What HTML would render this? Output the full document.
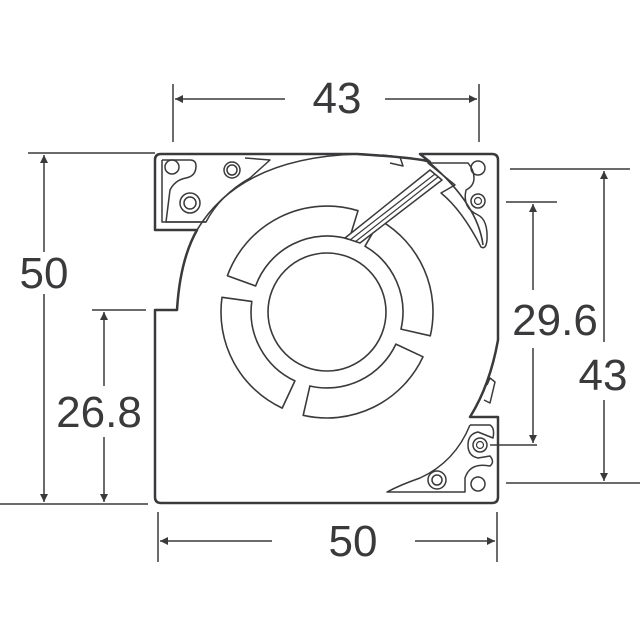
<!DOCTYPE html>
<html><head><style>html,body{margin:0;padding:0;background:#fff}svg{display:block}</style></head>
<body>
<svg width="640" height="640" viewBox="0 0 640 640" xmlns="http://www.w3.org/2000/svg">
<defs>
<marker id="a" viewBox="0 0 10 10" refX="10" refY="5" markerWidth="12" markerHeight="8" orient="auto-start-reverse" markerUnits="userSpaceOnUse"><path d="M0,0 L10,5 L0,10z" fill="#3a3a3c"/></marker>
</defs>
<g stroke="#3a3a3c" stroke-width="1.5" fill="none">
<line x1="173" y1="84" x2="173" y2="142"/>
<line x1="479" y1="84" x2="479" y2="142"/>
<line x1="175" y1="99" x2="285" y2="99" marker-start="url(#a)"/>
<line x1="385" y1="99" x2="477" y2="99" marker-end="url(#a)"/>
<line x1="28" y1="153" x2="155" y2="153"/>
<line x1="0" y1="504" x2="148" y2="504"/>
<line x1="44" y1="155" x2="44" y2="252" marker-start="url(#a)"/>
<line x1="44" y1="294" x2="44" y2="502" marker-end="url(#a)"/>
<line x1="92" y1="310" x2="146" y2="310"/>
<line x1="104" y1="312" x2="104" y2="386" marker-start="url(#a)"/>
<line x1="104" y1="437" x2="104" y2="502" marker-end="url(#a)"/>
<line x1="158" y1="512" x2="158" y2="562"/>
<line x1="497" y1="512" x2="497" y2="562"/>
<line x1="160" y1="541" x2="272" y2="541" marker-start="url(#a)"/>
<line x1="415" y1="541" x2="495" y2="541" marker-end="url(#a)"/>
<line x1="506" y1="202" x2="557" y2="202"/>
<line x1="490" y1="445" x2="537" y2="445"/>
<line x1="533" y1="204" x2="533" y2="290" marker-start="url(#a)"/>
<line x1="533" y1="348" x2="533" y2="443" marker-end="url(#a)"/>
<line x1="510" y1="169" x2="630" y2="169"/>
<line x1="506" y1="483" x2="640" y2="483"/>
<line x1="604" y1="171" x2="604" y2="342" marker-start="url(#a)"/>
<line x1="604" y1="400" x2="604" y2="481" marker-end="url(#a)"/>
</g>
<g font-family="Liberation Sans, sans-serif" font-size="44" fill="#3a3a3c" text-anchor="middle">
<text x="337" y="113">43</text>
<text x="44" y="288">50</text>
<text x="99" y="427">26.8</text>
<text x="353" y="556">50</text>
<text x="555" y="335">29.6</text>
<text x="603" y="390">43</text>
</g>
<g stroke="#3a3a3c" fill="none" stroke-linejoin="round">
<path stroke-width="2.5" d="M155,230 L155,160 Q155,154 161,154 L357,154 Q420,158 430,162 L420,154 L492,154 Q498,154 498,160 L498,340 Q490,385 470,417 L498,417 L498,497 Q498,503 492,503 L161,503 Q155,503 155,497 L155,310 L177,310 Q180,260 197,230 Z"/>
<path stroke-width="1.6" d="M197,230 Q240,158 357,154"/>
<path stroke-width="1.6" d="M430,163 Q478,205 483,245"/>
<path stroke-width="1.5" d="M162,160 L190,160 Q196,160 196,166 Q196,176 186,178 Q175,180 170,190 L166,222 L206,222 Q220,195 250,178 L270,160 L245,158"/>
<path stroke-width="1.5" d="M162,160 L162,222 L206,222"/>
<circle cx="172" cy="167" r="7" stroke-width="1.5"/>
<circle cx="232" cy="170" r="8" stroke-width="1.5"/><circle cx="232" cy="170" r="5" stroke-width="1.5"/>
<circle cx="190" cy="203" r="10" stroke-width="1.5"/><circle cx="190" cy="203" r="6" stroke-width="1.5"/>
<path stroke-width="1.5" d="M428,163 L468,163 Q474,170 474,178 Q474,186 466,190 Q462,208 478,215 Q488,220 487,240 Q486,250 481,247 Q462,210 441,193 L455,185 Z"/>
<circle cx="478" cy="168" r="7" stroke-width="1.5"/>
<circle cx="478" cy="201" r="7" stroke-width="1.5"/><circle cx="478" cy="201" r="3.5" stroke-width="1.2"/>
<path stroke-width="1.5" d="M470,425 L490,425 Q495,428 493,438 L478,432 Q468,434 468,445 Q468,456 478,458 L490,456 Q495,462 490,466 Q470,462 465,478 L465,492 L387,492 Q400,485 420,478 Q455,462 470,425"/>
<circle cx="480" cy="445" r="7" stroke-width="1.5"/><circle cx="480" cy="445" r="3.5" stroke-width="1.2"/>
<circle cx="437" cy="480" r="9" stroke-width="1.5"/><circle cx="437" cy="480" r="5" stroke-width="1.5"/>
<circle cx="478" cy="484" r="7" stroke-width="1.5"/>
<path stroke-width="1.5" d="M382,155 L400,157 L403,166 L390,163"/>
<path stroke-width="1.5" d="M487,385 L490,378 L495,382 L490,403 L484,400"/>
<circle cx="327" cy="312" r="59" stroke-width="1.6"/>
<path stroke-width="1.6" d="M227.4,275.7 A106,106 0 0 1 358,210.7 L349.2,239.3 A76,76 0 0 0 255.6,286 Z"/>
<path stroke-width="1.6" d="M222,297.3 A106,106 0 0 0 282.2,408.1 L294.9,380.9 A76,76 0 0 1 251.8,301.4 Z"/>
<path stroke-width="1.6" d="M303.2,415.3 A106,106 0 0 0 423,356.8 L395.9,344.1 A76,76 0 0 1 309.9,386 Z"/>
<path stroke-width="1.6" d="M380,220.2 A106,106 0 0 1 430.3,335.8 L401,329.1 A76,76 0 0 0 365,246.2 Z"/>
<path stroke-width="1.5" fill="#fff" d="M345,238 L430,170 L442,180 L360,243 Z"/>
<path stroke-width="1.2" d="M350,240 L435,174 M355,242 L438,177"/>
</g>
</svg>
</body></html>
